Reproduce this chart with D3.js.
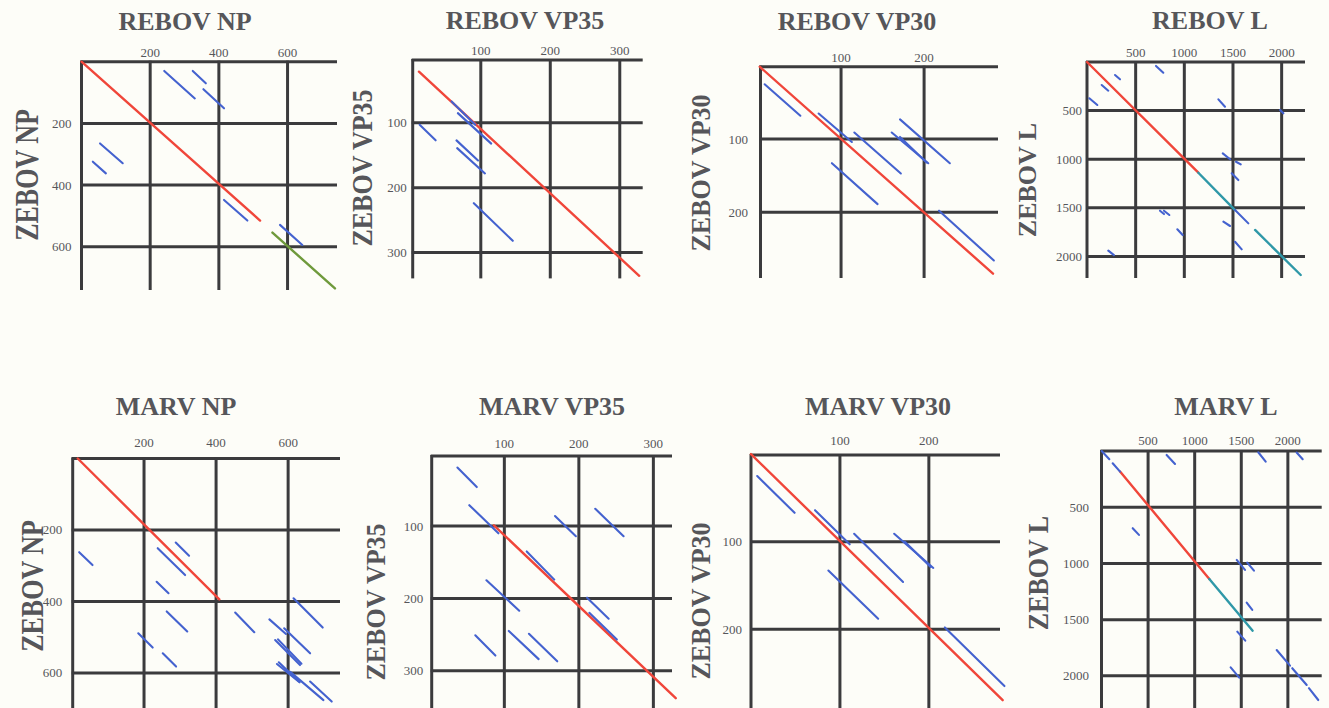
<!DOCTYPE html>
<html>
<head>
<meta charset="utf-8">
<script src="https://cdn.jsdelivr.net/npm/d3@7"></script>
<style>
  html, body { margin: 0; padding: 0; background: #fdfdf8; }
  svg { display: block; }
</style>
</head>
<body>
<svg id="chart" width="1329" height="708"></svg>
<script>
// ---- Panel text ----
const titles  = ["REBOV NP", "REBOV VP35", "REBOV VP30", "REBOV L",
                 "MARV NP", "MARV VP35", "MARV VP30", "MARV L"];
const yLabels = ["ZEBOV NP", "ZEBOV VP35", "ZEBOV VP30", "ZEBOV L",
                 "ZEBOV NP", "ZEBOV VP35", "ZEBOV VP30", "ZEBOV L"];

// ---- Tick values (residue positions) ----
const xTicks = [[200, 400, 600], [100, 200, 300], [100, 200], [500, 1000, 1500, 2000],
                [200, 400, 600], [100, 200, 300], [100, 200], [500, 1000, 1500, 2000]];
const yTicks = [[200, 400, 600], [100, 200, 300], [100, 200], [500, 1000, 1500, 2000],
                [200, 400, 600], [100, 200, 300], [100, 200], [500, 1000, 1500, 2000]];

// ---- Similarity diagonals: [x1, y1, x2, y2] in residue positions ----
const rebovNpRed    = [[0, 0, 520, 515]];
const rebovNpGreen  = [[556, 554, 738, 735]];
const rebovNpBlue   = [[241, 30, 330, 119], [324, 30, 362, 70], [355, 89, 415, 151],
                       [54, 265, 120, 329], [33, 324, 71, 362], [415, 448, 483, 515],
                       [578, 529, 643, 594]];

const rebovVp35Red  = [[11, 21, 328, 336]];
const rebovVp35Blue = [[58, 67, 92, 103], [67, 85, 115, 132], [12, 103, 35, 127],
                       [65, 127, 96, 158], [66, 139, 106, 178], [90, 224, 146, 282]];

const rebovVp30Red  = [[2, 1, 283, 284]];
const rebovVp30Blue = [[8, 25, 51, 68], [73, 65, 113, 104], [116, 91, 172, 147],
                       [161, 91, 205, 133], [171, 97, 203, 132], [171, 73, 231, 133],
                       [89, 133, 144, 189], [218, 198, 284, 266]];

const rebovLRed     = [[0, 0, 1144, 1139]];
const rebovLTeal    = [[1144, 1139, 1521, 1523], [1727, 1728, 2196, 2191]];
const rebovLBlue    = [[1521, 1523, 1658, 1660], [288, 134, 339, 178], [151, 237, 219, 295],
                       [24, 373, 106, 442], [709, 41, 784, 110], [1350, 384, 1418, 460],
                       [1984, 494, 2018, 528], [1395, 940, 1470, 1001], [1531, 1026, 1580, 1053],
                       [1487, 1145, 1555, 1214], [1401, 1643, 1470, 1687], [750, 1530, 791, 1564],
                       [791, 1530, 846, 1574], [928, 1721, 983, 1780], [1521, 1849, 1590, 1927],
                       [219, 1941, 277, 1986]];

const marvNpRed     = [[16, 0, 409, 394]];
const marvNpBlue    = [[20, 262, 57, 298], [238, 251, 314, 326], [288, 235, 325, 272],
                       [235, 345, 268, 377], [263, 428, 320, 484], [184, 489, 224, 529],
                       [252, 545, 289, 582], [453, 431, 506, 486], [615, 391, 696, 473],
                       [548, 450, 594, 491], [589, 475, 661, 545], [564, 508, 633, 578],
                       [572, 506, 637, 574], [569, 575, 629, 624], [574, 570, 632, 626],
                       [606, 597, 698, 676], [661, 624, 721, 680]];

const marvVp35Red   = [[86, 99, 330, 338]];
const marvVp35Blue  = [[37, 19, 63, 46], [53, 71, 92, 110], [168, 86, 196, 114],
                       [222, 76, 260, 114], [130, 135, 167, 174], [76, 175, 120, 217],
                       [211, 199, 240, 228], [214, 220, 251, 257], [61, 251, 88, 279],
                       [106, 245, 146, 284], [133, 249, 171, 287]];

const marvVp30Red   = [[0, 0, 283, 281]];
const marvVp30Blue  = [[7, 25, 49, 67], [72, 64, 111, 103], [116, 91, 171, 146],
                       [161, 91, 205, 130], [173, 100, 202, 129], [87, 133, 143, 188],
                       [218, 198, 285, 265]];

const marvLRed      = [[199, 183, 1157, 1138]];
const marvLTeal     = [[1157, 1138, 1622, 1598]];
const marvLBlue     = [[2, 0, 84, 73], [120, 109, 199, 183], [699, 35, 789, 115],
                       [1682, 11, 1762, 95], [2094, 14, 2159, 73], [335, 687, 402, 746],
                       [1451, 969, 1540, 1058], [1564, 993, 1636, 1064], [1558, 1349, 1618, 1414],
                       [1457, 1607, 1543, 1687], [1386, 1924, 1478, 2016], [1880, 1770, 2023, 1909],
                       [2047, 1932, 2202, 2081], [2226, 2110, 2326, 2215]];

const redSets   = [rebovNpRed, rebovVp35Red, rebovVp30Red, rebovLRed,
                   marvNpRed, marvVp35Red, marvVp30Red, marvLRed];
const blueSets  = [rebovNpBlue, rebovVp35Blue, rebovVp30Blue, rebovLBlue,
                   marvNpBlue, marvVp35Blue, marvVp30Blue, marvLBlue];
const tealSets  = [[], [], [], rebovLTeal, [], [], [], marvLTeal];
const greenSets = [rebovNpGreen, [], [], [], [], [], [], []];

// ---- Layout: plotted ranges, pixel boxes, text placement ----
const layout = [
  { xd: [0, 744],   xr: [81.5, 337],    yd: [0, 740],    yr: [61.7, 290],
    tx: 185, ty: 30, lx: 27, ly: 175, ls: 1.32, yGap: 10, xGap: 5 },
  { xd: [2, 333],   xr: [412.7, 642.7], yd: [3, 340],    yr: [60, 278.4],
    tx: 525, ty: 29, lx: 362, ly: 168, ls: 1.15, yGap: 6, xGap: 5.5 },
  { xd: [3, 289],   xr: [760.5, 998],   yd: [1, 290],    yr: [66.7, 278],
    tx: 857, ty: 30, lx: 701, ly: 173, ls: 1.05, yGap: 12.5, xGap: 5 },
  { xd: [0, 2240],  xr: [1087, 1305],   yd: [0, 2222],   yr: [62, 278],
    tx: 1210, ty: 29, lx: 1027, ly: 180, ls: 1.0, yGap: 5, xGap: 5 },
  { xd: [2, 744],   xr: [72.7, 340],    yd: [0, 698],    yr: [458.5, 708],
    tx: 176, ty: 415, lx: 32, ly: 586, ls: 1.24, yGap: 10.5, xGap: 11.5 },
  { xd: [2.5, 325], xr: [431.7, 672],   yd: [3, 351.6],  yr: [456, 708],
    tx: 552, ty: 415, lx: 376, ly: 602, ls: 1.05, yGap: 8.5, xGap: 8.5 },
  { xd: [0, 280],   xr: [751, 1000],    yd: [1, 290],    yr: [455, 708],
    tx: 878, ty: 415, lx: 701, ly: 601, ls: 1.05, yGap: 9, xGap: 10 },
  { xd: [0, 2363],  xr: [1101.5, 1321.7], yd: [0, 2286], yr: [451, 708],
    tx: 1226, ty: 415, lx: 1038, ly: 573, ls: 1.15, yGap: 12.5, xGap: 6 }
];

const gridColor = "#3b3b3d";
const textColor = "#56565a";
const serif = "'Liberation Serif', 'Times New Roman', serif";
const labelSize = 26;

const svg = d3.select("#chart");
svg.append("rect").attr("width", 1329).attr("height", 708).attr("fill", "#fdfdf8");

titles.forEach((title, i) => {
  const L = layout[i];
  const x = d3.scaleLinear().domain(L.xd).range(L.xr);
  const y = d3.scaleLinear().domain(L.yd).range(L.yr);
  const g = svg.append("g");

  // grid: frame start plus each tick
  const hVals = [L.yd[0], ...yTicks[i]];
  const vVals = [L.xd[0], ...xTicks[i]];
  g.selectAll("line.h").data(hVals).join("line")
    .attr("x1", x(L.xd[0]) - 1).attr("x2", x(L.xd[1]))
    .attr("y1", d => y(d)).attr("y2", d => y(d))
    .attr("stroke", gridColor).attr("stroke-width", 3);
  g.selectAll("line.v").data(vVals).join("line")
    .attr("y1", y(L.yd[0]) - 1).attr("y2", y(L.yd[1]))
    .attr("x1", d => x(d)).attr("x2", d => x(d))
    .attr("stroke", gridColor).attr("stroke-width", 3);

  // tick labels
  g.selectAll("text.xt").data(xTicks[i]).join("text")
    .attr("x", d => x(d)).attr("y", y(L.yd[0]) - L.xGap)
    .attr("text-anchor", "middle")
    .attr("font-family", serif).attr("font-size", 13).attr("fill", textColor)
    .text(d => d);
  g.selectAll("text.yt").data(yTicks[i]).join("text")
    .attr("x", x(L.xd[0]) - L.yGap).attr("y", d => y(d) + 4.5)
    .attr("text-anchor", "end")
    .attr("font-family", serif).attr("font-size", 13).attr("fill", textColor)
    .text(d => d);

  // title and rotated axis label
  g.append("text")
    .attr("x", L.tx).attr("y", L.ty)
    .attr("text-anchor", "middle")
    .attr("font-family", serif).attr("font-weight", "bold")
    .attr("font-size", labelSize).attr("fill", textColor)
    .text(title);
  g.append("text")
    .attr("transform", `translate(${L.lx},${L.ly}) rotate(-90) scale(1,${L.ls})`)
    .attr("x", 0).attr("y", labelSize * 0.33)
    .attr("text-anchor", "middle")
    .attr("font-family", serif).attr("font-weight", "bold")
    .attr("font-size", labelSize).attr("fill", textColor)
    .text(yLabels[i]);

  // similarity diagonals
  const drawSegs = (segs, color, width) => {
    g.selectAll(null).data(segs).join("line")
      .attr("x1", d => x(d[0])).attr("y1", d => y(d[1]))
      .attr("x2", d => x(d[2])).attr("y2", d => y(d[3]))
      .attr("stroke", color).attr("stroke-width", width)
      .attr("stroke-linecap", "round");
  };
  drawSegs(redSets[i], "#f0463a", 2.4);
  drawSegs(greenSets[i], "#6f9a3c", 2.4);
  drawSegs(tealSets[i], "#2f98a8", 2.4);
  drawSegs(blueSets[i], "#4462cf", 2.1);
});
</script>
</body>
</html>
